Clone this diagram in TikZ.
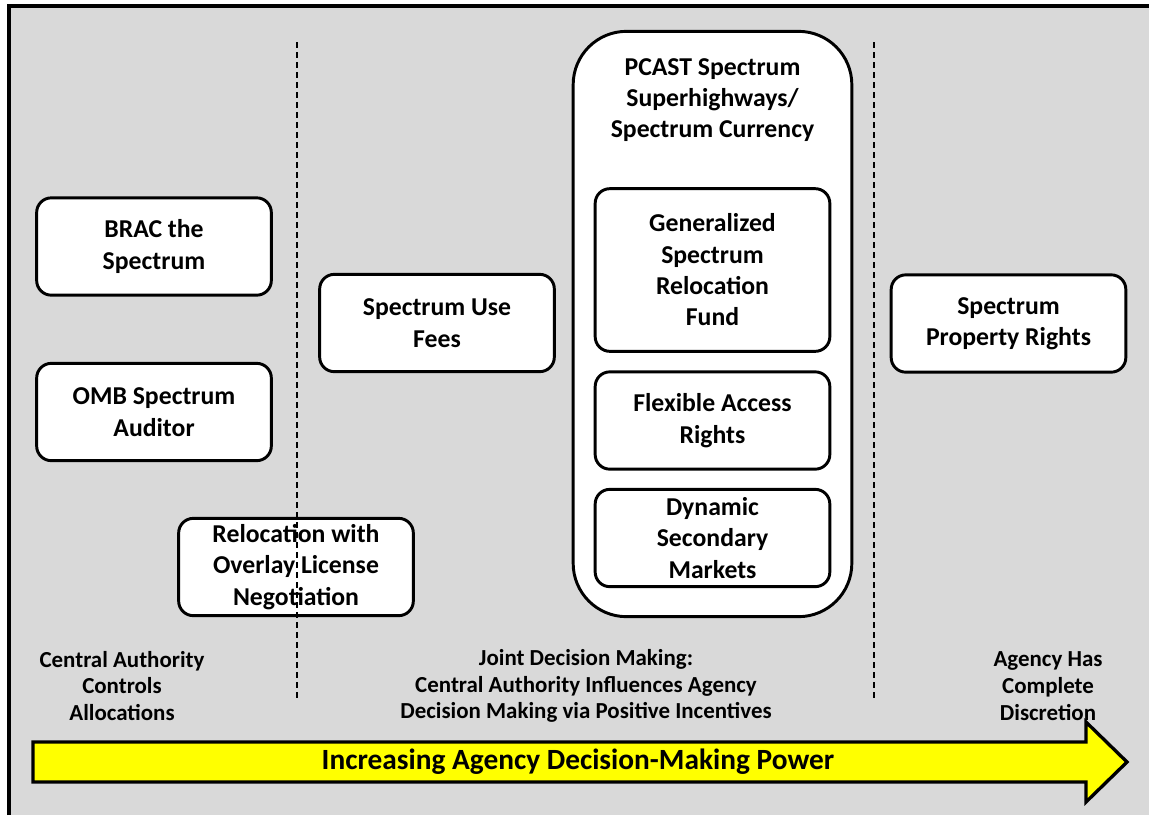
\documentclass[tikz,border=0pt]{standalone}
\usepackage{fontspec}
\setmainfont{Carlito}
\usetikzlibrary{positioning}
\definecolor{panelgrey}{HTML}{D9D9D9}
\definecolor{arrowyellow}{HTML}{FFFF00}
\tikzstyle{option}=[rectangle,
	rounded corners=11pt,
	line width=2.2pt,
	draw=black,
	fill=white,
	align=center,
	minimum width=176pt,
	minimum height=73pt,
	font=\bfseries\fontsize{19.3}{23.5}\selectfont]
\tikzstyle{umbrella}=[rectangle,
	rounded corners=40pt,
	line width=2.2pt,
	draw=black,
	fill=white,
	minimum width=209pt,
	minimum height=439pt]
\tikzstyle{caption}=[align=center,
	font=\bfseries\fontsize{17.2}{20}\selectfont]
\tikzstyle{divider}=[line width=0.8pt,
	dash pattern=on 4.5pt off 3pt]

\begin{document}
\begin{tikzpicture}[x=0.75pt,y=-0.75pt]
	\useasboundingbox (0,0) rectangle (1149,815);
	% panel
	\fill[panelgrey] (9,6) rectangle (1149,815);
	\draw[line width=3pt] (9,815) -- (9,6) -- (1149,6);

	% left column
	\node (brac) [option] at (154,246.5) {BRAC the\\Spectrum};
	\node (omb) [option] at (154,412) {OMB Spectrum\\Auditor};
	\node (reloc) [option] at (296,567) {Relocation with\\Overlay License\\Negotiation};

	% middle column
	\node (fees) [option] at (437,323) {Spectrum Use\\Fees};
	\node (pcast) [umbrella] at (712.5,324) {};
	\node (pcasttitle) [caption, font=\bfseries\fontsize{19.3}{23.5}\selectfont] at (712.5,100) {PCAST Spectrum\\Superhighways/\\Spectrum Currency};
	\node (fund) [option, minimum height=122pt] at (712.5,270) {Generalized\\Spectrum\\Relocation\\Fund};
	\node (flex) [option] at (712.5,420.5) {Flexible Access\\Rights};
	\node (dsm) [option] at (712.5,538) {Dynamic\\Secondary\\Markets};

	% right column
	\node (rights) [option] at (1008.5,323.5) {Spectrum\\Property Rights};

	% dividers
	\coordinate (d1top) at (297,42);
	\coordinate (d1bot) at (297,702);
	\coordinate (d2top) at (874,42);
	\coordinate (d2bot) at (874,702);
	\draw[divider] (d1top) -- (d1bot);
	\draw[divider] (d2top) -- (d2bot);

	% regime labels
	\node (central) [caption] at (122,686) {Central Authority\\Controls\\Allocations};
	\node (joint) [caption] at (586,686) {Joint Decision Making:\\Central Authority Influences Agency\\Decision Making via Positive Incentives};
	\node (agency) [caption] at (1048,686) {Agency Has\\Complete\\Discretion};

	% power arrow
	\draw[line width=2.5pt, fill=arrowyellow, line join=miter]
		(33,742) -- (1086,742) -- (1086,722) -- (1127,762)
		-- (1086,802) -- (1086,782) -- (33,782) -- cycle;
	\node (power) [font=\bfseries\fontsize{22}{26}\selectfont] at (578,762) {Increasing Agency Decision-Making Power};
\end{tikzpicture}
\end{document}
